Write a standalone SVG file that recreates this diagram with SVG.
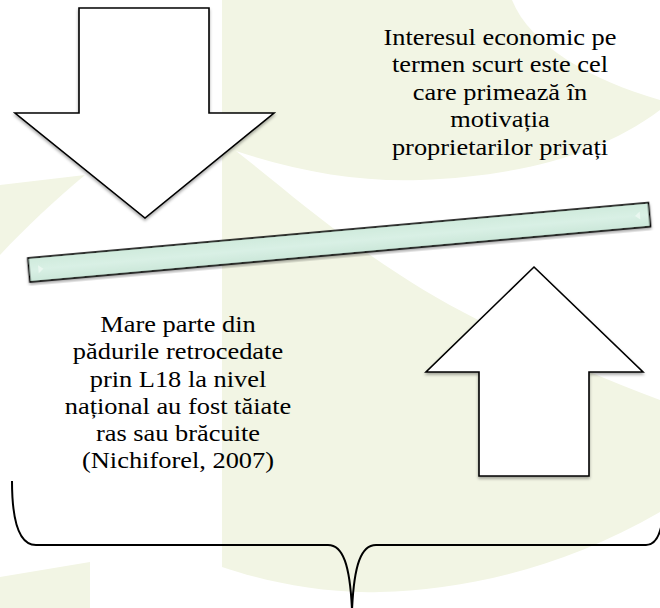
<svg xmlns="http://www.w3.org/2000/svg" width="660" height="608" viewBox="0 0 660 608">
  <defs>
    <filter id="shadow" x="-10%" y="-10%" width="120%" height="125%">
      <feDropShadow dx="0" dy="2" stdDeviation="1.5" flood-color="#000" flood-opacity="0.35"/>
    </filter>
    <linearGradient id="barFill" x1="0" y1="0" x2="0" y2="1">
      <stop offset="0" stop-color="#cfeadc"/>
      <stop offset="0.5" stop-color="#d9f0e5"/>
      <stop offset="1" stop-color="#cbe7d9"/>
    </linearGradient>
  </defs>
  <style>
    .bg { fill: #f2f5e4; }
    .bgw { fill: #ffffff; }
    .arrow { fill: #ffffff; stroke: #000; stroke-width: 1.6; stroke-linejoin: miter; filter: url(#shadow); }
    .bar { fill: url(#barFill); stroke: #000; stroke-width: 1.6; filter: url(#shadow); }
    .lbl { font-family: "Liberation Serif", "Times New Roman", serif; font-size: 24px; fill: #000; text-anchor: middle; }
    .brace { fill: none; stroke: #000; stroke-width: 2; }
  </style>

  <!-- background -->
  <rect width="660" height="608" fill="#ffffff"/>
  <g id="background">
    <path class="bg" d="M222,0 L660,0 L660,512 C560,570 460,590 380,592 C320,594 260,580 222,567 Z"/>
    <path class="bgw" d="M512,0 C530,45 590,80 660,100 L660,0 Z"/>
    <path class="bgw" d="M236,151 C300,172 360,182 420,180 C520,176 600,155 660,110 L660,400 C560,362 460,315 400,275 C330,230 280,185 236,151 Z"/>
    <path class="bg" d="M0,185 L85,175 C55,200 25,228 0,255 Z"/>
    <path class="bg" d="M0,577 L90,562 L90,608 L0,608 Z"/>
  </g>

  <g id="connectors">
    <g id="brace">
      <path class="brace" d="M12,481 C12,525 20,545 36,545 L328,545 C343,545 350,565 352,610 C354,565 361,545 376,545 L646,545 C655,545 661,535 663,515"/>
    </g>
  </g>

  <g id="nodes">
    <g id="down-arrow">
      <path class="arrow" d="M79,8 L209,8 L209,113 L274,113 L145,218 L15,113 L79,113 Z"/>
    </g>
    <g id="up-arrow">
      <path class="arrow" d="M534,267 L643,372 L589,372 L589,476 L479,476 L479,372 L426,372 Z"/>
    </g>
    <g id="bar">
      <g transform="translate(339.2,242.3) rotate(-5.1)">
        <rect class="bar" x="-311.5" y="-12" width="623" height="24"/>
        <path d="M-302,-4 L-297,0 L-302,4 Z" fill="#eaf7f0"/>
        <path d="M302,-4 L297,0 L302,4 Z" fill="#eaf7f0"/>
      </g>
    </g>
    <g id="text-top">
      <g transform="translate(500,0) scale(1.1,1)">
        <text class="lbl" x="0" y="45">Interesul economic pe</text>
        <text class="lbl" x="0" y="72.5">termen scurt este cel</text>
        <text class="lbl" x="0" y="100">care primează în</text>
        <text class="lbl" x="0" y="127.5">motivația</text>
        <text class="lbl" x="0" y="155">proprietarilor privați</text>
      </g>
    </g>
    <g id="text-bottom">
      <g transform="translate(178,0) scale(1.1,1)">
        <text class="lbl" x="0" y="332">Mare parte din</text>
        <text class="lbl" x="0" y="359.3">pădurile retrocedate</text>
        <text class="lbl" x="0" y="386.6">prin L18 la nivel</text>
        <text class="lbl" x="0" y="413.9">național au fost tăiate</text>
        <text class="lbl" x="0" y="441.2">ras sau brăcuite</text>
        <text class="lbl" x="0" y="468.5">(Nichiforel, 2007)</text>
      </g>
    </g>
  </g>
</svg>
